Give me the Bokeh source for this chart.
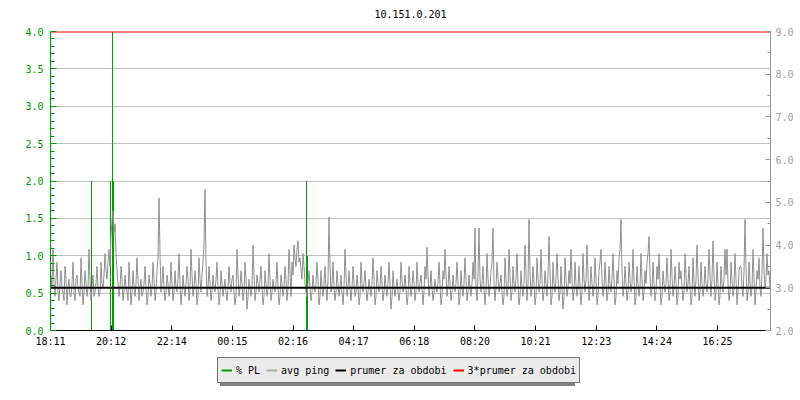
from bokeh.plotting import figure
from bokeh.layouts import column
from bokeh.models import (Range1d, LinearAxis, FixedTicker, PrintfTickFormatter,
                          Legend, LegendItem, ColumnDataSource)
from bokeh.core.properties import value
from bokeh.embed import file_html
from bokeh.resources import INLINE

title_text = "10.151.0.201"
time_labels = ["18:11", "20:12", "22:14", "00:15", "02:16", "04:17",
               "06:18", "08:20", "10:21", "12:23", "14:24", "16:25"]
label_step_min = 121.27
span_min = 1440
sample_min = 2

# avg ping [ms], one value every 2 minutes (18:11 -> 18:11)
ping_ms = [
    # 18:11 - 20:11
    3.3, 3.0, 3.9, 3.1, 2.8, 3.2, 3.6, 2.9, 2.7, 3.1, 3.4, 3.0, 2.9, 2.7, 3.5, 3.2, 2.6, 3.0, 3.2, 2.8,
    2.8, 3.1, 3.6, 2.9, 2.7, 3.2, 3.3, 3.0, 2.9, 2.8, 3.7, 3.1, 2.6, 2.9, 3.4, 3.1, 2.8, 3.0, 3.9, 3.2,
    2.7, 3.0, 3.3, 2.8, 2.9, 3.1, 3.5, 3.0, 2.8, 2.9, 3.6, 3.1, 3.0, 3.3, 3.8, 3.4, 3.2, 3.6, 3.9, 3.5,
    # 20:11 - 22:11
    4.2, 4.6, 4.8, 4.3, 4.5, 3.8, 3.4, 3.1, 2.8, 3.0, 3.5, 3.2, 2.7, 2.9, 3.3, 3.0, 2.9, 2.7, 3.6, 3.1,
    2.6, 2.9, 3.4, 3.0, 2.8, 3.1, 3.7, 3.2, 2.7, 3.0, 3.2, 2.8, 2.9, 3.1, 3.5, 3.0, 2.6, 2.8, 3.3, 3.1,
    2.8, 3.0, 3.6, 3.2, 2.7, 2.9, 3.4, 3.7, 5.1, 3.8, 2.9, 3.1, 3.5, 3.0, 2.7, 2.9, 3.3, 3.1, 2.8, 3.0,
    # 22:11 - 00:11
    3.6, 3.1, 2.7, 2.9, 3.4, 3.0, 2.9, 3.2, 3.8, 3.1, 2.6, 2.9, 3.3, 3.0, 2.8, 3.1, 3.5, 3.2, 2.7, 3.0,
    3.9, 3.3, 2.8, 3.0, 3.4, 3.1, 2.6, 2.8, 3.7, 3.2, 2.9, 3.3, 3.6, 4.0, 5.3, 3.6, 2.8, 3.0, 3.5, 3.1,
    2.7, 2.9, 3.3, 3.0, 2.9, 3.2, 3.6, 3.0, 2.6, 2.8, 3.4, 3.1, 2.8, 3.0, 3.2, 2.9, 2.7, 3.0, 3.5, 3.1,
    # 00:11 - 02:11
    2.9, 3.2, 3.3, 2.9, 2.6, 2.8, 3.9, 3.3, 2.8, 3.0, 3.4, 3.1, 2.7, 2.9, 3.6, 3.2, 2.5, 2.8, 3.2, 3.0,
    2.8, 3.0, 4.0, 3.3, 2.7, 2.9, 3.3, 3.1, 2.9, 3.2, 3.5, 3.0, 2.6, 2.8, 3.4, 3.1, 2.8, 3.0, 3.8, 3.2,
    2.7, 2.9, 3.2, 3.0, 2.9, 3.1, 3.6, 3.0, 2.6, 2.8, 3.3, 3.1, 2.8, 3.0, 3.5, 3.2, 2.7, 3.0, 3.9, 3.4,
    # 02:11 - 04:11
    2.8, 3.6, 3.3, 4.0, 3.7, 3.5, 3.9, 4.1, 3.6, 3.7, 3.4, 3.2, 3.8, 3.5, 3.1, 2.9, 2.8, 3.1, 3.4, 3.0,
    2.7, 2.9, 3.3, 3.0, 2.9, 3.1, 3.6, 3.2, 2.6, 2.8, 3.4, 3.0, 2.8, 3.1, 3.5, 3.0, 2.7, 3.2, 4.65, 3.5,
    2.9, 3.1, 3.6, 3.0, 2.7, 2.9, 3.4, 3.1, 2.8, 3.0, 3.3, 2.9, 2.6, 3.0, 3.9, 3.3, 2.8, 3.0, 3.4, 3.0,
    # 04:11 - 06:11
    2.7, 3.0, 3.5, 3.1, 2.8, 2.9, 3.3, 3.0, 2.6, 2.8, 3.6, 3.1, 2.9, 3.1, 3.4, 3.0, 2.7, 2.9, 3.2, 3.0,
    2.8, 3.1, 3.7, 3.2, 2.6, 2.8, 3.4, 3.1, 2.9, 3.0, 3.5, 3.1, 2.7, 2.9, 3.3, 3.0, 2.8, 3.1, 3.6, 3.1,
    2.5, 2.8, 3.4, 3.0, 2.8, 3.0, 3.2, 2.9, 2.7, 2.9, 3.6, 3.2, 2.9, 3.0, 3.3, 3.0, 2.6, 2.8, 3.5, 3.1,
    # 06:11 - 08:11
    2.8, 3.0, 3.4, 3.1, 2.7, 2.9, 3.6, 3.1, 2.9, 3.1, 3.3, 3.0, 2.6, 2.9, 3.5, 3.2, 3.95, 3.3, 2.8, 3.0,
    3.4, 3.0, 2.7, 2.9, 3.2, 3.0, 2.9, 3.1, 3.6, 3.1, 2.6, 2.8, 3.4, 3.2, 3.9, 3.3, 2.8, 3.0, 3.5, 3.1,
    2.7, 2.9, 3.3, 3.0, 2.9, 3.1, 3.6, 3.1, 2.6, 2.8, 3.4, 3.0, 2.8, 3.1, 3.7, 3.2, 2.7, 2.9, 3.3, 3.0,
    # 08:11 - 10:11
    2.8, 3.1, 3.6, 3.2, 4.4, 3.0, 2.7, 3.3, 4.4, 3.2, 2.9, 3.1, 3.5, 3.0, 2.6, 2.9, 3.8, 3.2, 2.8, 3.0,
    3.4, 3.6, 4.4, 3.1, 2.7, 3.0, 3.6, 3.2, 2.9, 3.1, 3.3, 2.9, 2.6, 2.8, 3.7, 3.2, 2.8, 3.0, 3.9, 3.3,
    2.7, 2.9, 3.5, 3.1, 2.9, 3.2, 3.8, 3.1, 2.6, 2.8, 3.4, 3.0, 2.8, 3.1, 4.0, 3.3, 2.7, 3.1, 4.6, 3.4,
    # 10:11 - 12:11
    2.8, 3.0, 3.5, 3.1, 2.6, 2.8, 3.7, 3.2, 2.9, 3.1, 3.9, 3.2, 2.7, 2.9, 3.4, 3.1, 2.8, 3.3, 4.2, 3.4,
    2.6, 2.8, 3.6, 3.1, 2.9, 3.2, 3.8, 3.2, 2.7, 2.9, 3.5, 3.0, 2.5, 2.8, 3.7, 3.2, 2.8, 3.0, 3.4, 3.1,
    3.9, 3.2, 2.7, 2.9, 3.6, 3.1, 2.8, 3.0, 3.5, 3.0, 2.6, 2.9, 3.8, 3.2, 2.9, 3.2, 4.0, 3.3, 2.7, 3.0,
    # 12:11 - 14:11
    3.5, 3.1, 2.8, 3.0, 3.7, 3.2, 2.6, 2.8, 3.4, 3.6, 3.9, 3.2, 2.8, 3.0, 3.6, 3.1, 2.7, 2.9, 3.5, 3.1,
    2.9, 3.2, 3.8, 3.2, 2.6, 2.8, 3.4, 3.1, 3.7, 3.9, 4.6, 3.4, 2.8, 3.0, 3.5, 3.1, 2.7, 2.9, 3.6, 3.2,
    2.9, 3.1, 3.9, 3.2, 2.6, 2.8, 3.5, 3.1, 2.8, 3.0, 3.8, 3.2, 2.7, 2.9, 3.4, 3.1, 3.6, 3.8, 4.2, 3.3,
    # 14:11 - 16:11
    2.8, 3.0, 3.6, 3.1, 2.7, 2.9, 3.5, 3.2, 3.8, 3.1, 2.6, 2.8, 3.4, 3.1, 2.9, 3.1, 3.7, 3.2, 2.7, 2.9,
    3.9, 3.3, 2.8, 3.0, 3.5, 3.1, 2.6, 2.8, 3.6, 3.2, 3.4, 3.0, 2.7, 2.9, 3.8, 3.3, 2.9, 3.1, 3.5, 3.0,
    2.6, 2.8, 3.7, 3.1, 2.8, 3.2, 4.0, 3.3, 2.7, 2.9, 3.6, 3.1, 2.8, 3.0, 3.5, 3.1, 2.9, 3.2, 3.9, 3.3,
    # 16:11 - 18:11
    2.8, 3.2, 4.1, 3.3, 2.7, 2.9, 3.6, 3.1, 2.6, 2.8, 3.5, 3.1, 2.9, 3.2, 3.9, 3.3, 3.9, 3.1, 2.7, 2.9,
    3.6, 3.2, 2.8, 3.0, 3.8, 3.2, 2.6, 2.9, 3.4, 3.5, 3.5, 3.0, 2.8, 3.4, 4.6, 3.5, 2.7, 2.9, 3.6, 3.1,
    2.8, 3.0, 3.9, 3.2, 2.6, 2.9, 3.4, 3.2, 3.7, 3.0, 2.8, 3.3, 4.4, 3.4, 3.0, 3.2, 3.8, 3.3, 3.4, 3.0,
]

# packet loss events [minutes since start] and values [%]
pl_bin_min = 2
pl_event_min = [82, 120, 124, 126, 512, 514]
pl_event_val = [2.0, 2.0, 4.0, 2.0, 2.0, 1.0]

prumer_ms = 3.0
legend_labels = ["% PL", "avg ping", "prumer za obdobi", "3*prumer za obdobi"]

FONT = "DejaVu Sans Mono"
GREEN = "#00a000"
AXGREEN = "#009900"
GRAY = "#8f8f8f"


def bare_figure(height, y_max):
    f = figure(width=800, height=height, x_range=Range1d(0, 1), y_range=Range1d(0, y_max),
               output_backend="svg", toolbar_location=None, x_axis_type=None, y_axis_type=None,
               min_border_left=0, min_border_right=0, min_border_top=0, min_border_bottom=0)
    f.outline_line_color = None
    f.xgrid.visible = False
    f.ygrid.visible = False
    f.background_fill_color = "white"
    f.border_fill_color = "white"
    return f


# title strip (frame aligned with the chart below)
tf = bare_figure(23, 23)
tf.text(x=[0.5], y=[10], text=[title_text], text_font=value(FONT), text_font_size="10px",
        text_align="center", text_baseline="middle", text_color="black")

ping_x = [i * sample_min + sample_min / 2 for i in range(len(ping_ms))]

p = figure(width=800, height=327, x_range=Range1d(0, span_min), y_range=Range1d(0, 4),
           output_backend="svg", toolbar_location=None,
           min_border_left=50, min_border_right=30, min_border_top=8, min_border_bottom=20)
p.extra_y_ranges = {"ms": Range1d(2, 9)}
p.outline_line_color = None
p.background_fill_color = "white"
p.border_fill_color = "white"

# left axis (% PL)
ly = p.yaxis[0]
ly.ticker = FixedTicker(ticks=[k * 0.5 for k in range(9)], minor_ticks=[k * 0.1 for k in range(41)])
ly.formatter = PrintfTickFormatter(format="%.1f")
ly.axis_line_color = AXGREEN
ly.major_tick_line_color = AXGREEN
ly.minor_tick_line_color = AXGREEN
ly.major_tick_in = 6
ly.major_tick_out = 0
ly.minor_tick_in = 4
ly.minor_tick_out = 0
ly.major_label_standoff = 7
ly.major_label_text_color = AXGREEN
ly.major_label_text_font = FONT
ly.major_label_text_font_size = "10px"

p.ygrid.ticker = FixedTicker(ticks=[k * 0.5 for k in range(9)])
p.ygrid.grid_line_color = "#c0c0c0"
p.xgrid.visible = False

# right axis (ms)
ry = LinearAxis(y_range_name="ms")
ry.ticker = FixedTicker(ticks=list(range(2, 10)), minor_ticks=[2 + k * 0.5 for k in range(15)])
ry.formatter = PrintfTickFormatter(format="%.1f")
ry.axis_line_color = "#999999"
ry.major_tick_line_color = "#999999"
ry.minor_tick_line_color = "#999999"
ry.major_tick_in = 5
ry.major_tick_out = 0
ry.minor_tick_in = 3
ry.minor_tick_out = 0
ry.major_label_standoff = 5
ry.major_label_text_color = "#a0a0a0"
ry.major_label_text_font = FONT
ry.major_label_text_font_size = "10px"
p.add_layout(ry, "right")

# bottom axis (time)
bx = p.xaxis[0]
tick_pos = [k * label_step_min for k in range(len(time_labels))]
bx.ticker = FixedTicker(ticks=tick_pos, minor_ticks=[])
bx.major_label_overrides = {t: lab for t, lab in zip(tick_pos, time_labels)}
bx.axis_line_color = "black"
bx.axis_line_width = 1
bx.major_tick_line_color = "black"
bx.major_tick_in = 5
bx.major_tick_out = 0
bx.minor_tick_line_color = None
bx.major_label_standoff = 5
bx.major_label_text_color = "black"
bx.major_label_text_font = FONT
bx.major_label_text_font_size = "10px"

# data
x_end = len(ping_ms) * sample_min
p.vbar(x=pl_event_min, top=pl_event_val, bottom=0, width=pl_bin_min, fill_color=GREEN, line_color=None)
p.line(x=ping_x, y=ping_ms, line_color=GRAY, line_width=1, y_range_name="ms")
p.line(x=[0, x_end], y=[prumer_ms, prumer_ms], line_color="black", line_width=2, y_range_name="ms")
p.line(x=[0, x_end], y=[3 * prumer_ms, 3 * prumer_ms], line_color="#ff0000", line_width=2, y_range_name="ms")

# legend strip below the chart (frame aligned with the chart above)
lf = bare_figure(50, 1)
legend_colors = [GREEN, "#aaaaaa", "black", "#ff0000"]
shadow_items, main_items = [], []
for lab, col in zip(legend_labels, legend_colors):
    r_main = lf.line(x="x", y="y", source=ColumnDataSource(dict(x=[-2, -1], y=[-2, -2])),
                     line_color=col, line_width=2)
    r_sh = lf.line(x="x", y="y", source=ColumnDataSource(dict(x=[-2, -1], y=[-2, -2])),
                   line_color=col, line_width=2, line_alpha=0)
    main_items.append(LegendItem(label=lab, renderers=[r_main]))
    # shadow box: same width (monospace) but blank text
    shadow_items.append(LegendItem(label="\u00a0" * len(lab), renderers=[r_sh]))


def make_legend(items, loc):
    return Legend(items=items, orientation="horizontal", location=loc,
                  label_text_font=FONT, label_text_font_size="10px",
                  glyph_width=11, glyph_height=18, label_height=18, label_standoff=4,
                  spacing=6, padding=3, margin=0)


sh = make_legend(shadow_items, (170, 14))
sh.label_text_alpha = 0
sh.border_line_color = None
sh.background_fill_color = "#808080"
sh.background_fill_alpha = 1
main = make_legend(main_items, (167, 17))
main.border_line_color = "black"
main.border_line_width = 1
main.background_fill_color = "#ebebeb"
main.background_fill_alpha = 1
main.label_text_color = "black"
lf.add_layout(sh)
lf.add_layout(main)

layout = column(tf, p, lf, spacing=0)
open("out.html", "w").write(file_html(layout, INLINE))
